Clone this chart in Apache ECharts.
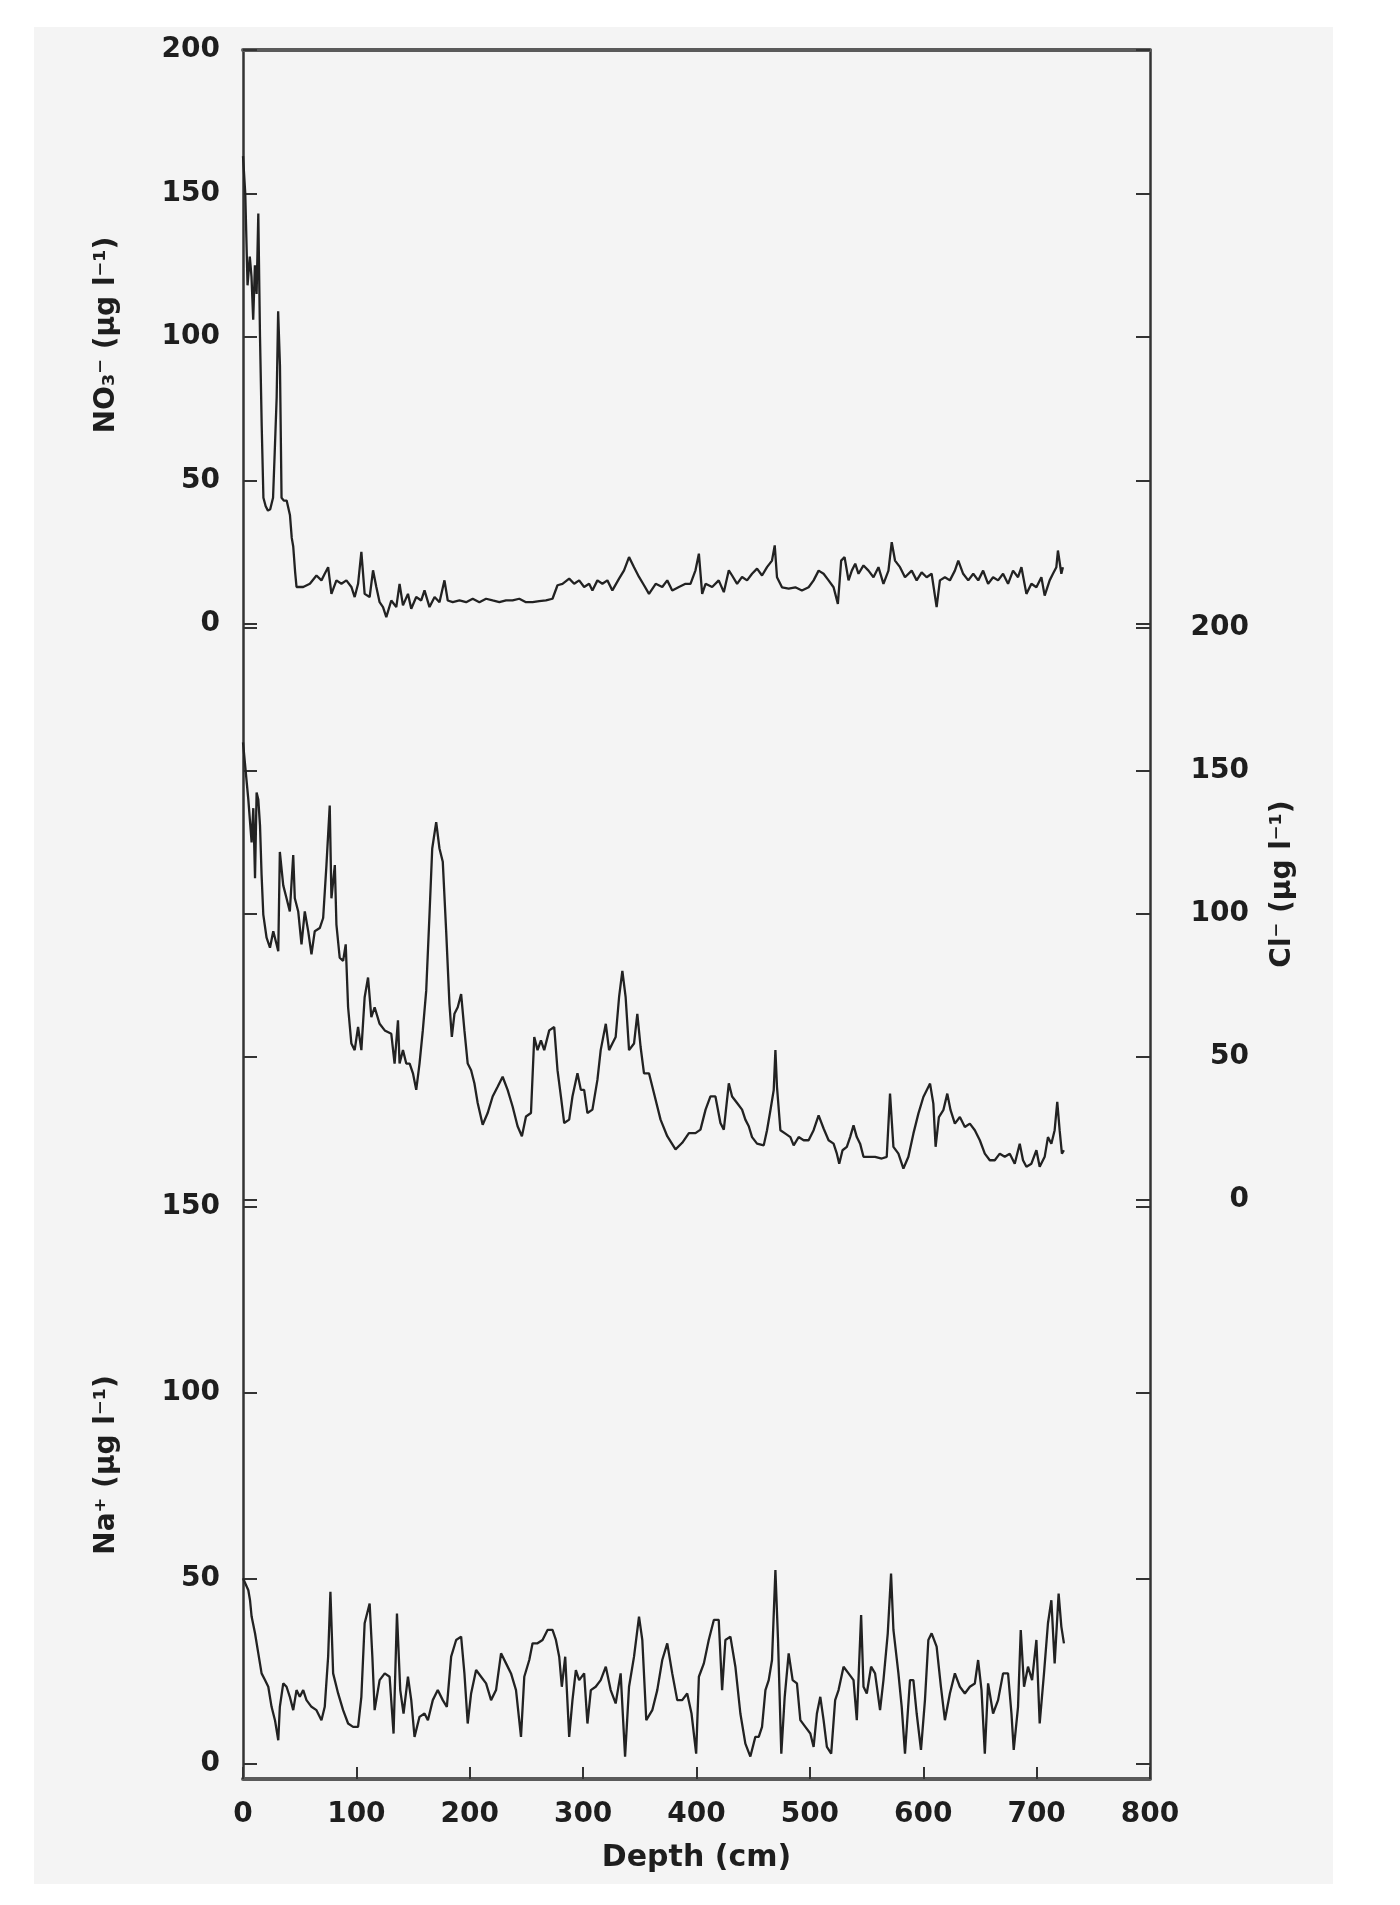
<!DOCTYPE html>
<html>
<head>
<meta charset="utf-8">
<title>Ion profiles vs depth</title>
<script src="https://cdn.jsdelivr.net/npm/echarts@6/dist/echarts.min.js"></script>
<style>
  html, body { margin: 0; padding: 0; background: #fff; }
  #chart { width: 1400px; height: 1905px; }
</style>
</head>
<body>
<div id="chart"></div>
<script>
// depth ticks (cm)
var depthTicks = [0, 100, 200, 300, 400, 500, 600, 700, 800];

// NO3- (ug/l) vs depth
var no3Depth = [0, 2, 4, 6, 7.5, 9, 10.5, 12, 13.5, 15, 16.5, 18, 20, 22, 24, 26.5, 28, 29.7, 31, 32.6, 34, 36, 38.5, 41.4, 43, 44.3, 46, 47.2,
  53.1, 59, 64.8, 69.2, 72.1, 75.1, 78, 82.4, 86.8, 91.2, 95.6, 98.5, 101.5, 104.4, 107.3, 111.7, 114.7, 117.6, 120.5, 123.5, 126.4, 130.8,
  135.2, 138.1, 141.1, 145.5, 148.4, 152.8, 157.2, 160.1, 164.5, 169, 173.3, 177.7, 180.6, 185, 190.9, 196.8, 202.6, 208.5, 214.4, 220.2,
  226.1, 232, 237.8, 243.7, 249.6, 255.4, 261.3, 267.2, 273, 277.4, 281.8, 287.7, 292.1, 296.5, 300.9, 305.3, 308.2, 312.6, 317, 321.4,
  325.8, 331.7, 336.1, 340.5, 344.9, 349.3, 353.7, 358.1, 364, 369.8, 374.2, 378.6, 384.5, 390.3, 394.7, 399.1, 402.1, 405, 408, 413.8,
  419.6, 424.1, 428.5, 431.4, 435.8, 440.2, 444.6, 449, 453.4, 457.8, 462.2, 466.6, 469, 471, 475.4, 481.3, 487.2, 493, 498.9, 503.3,
  507.7, 512.1, 516.5, 520.9, 524.7, 527.6, 530.6, 534.1, 537, 540, 542.9, 547.3, 551.7, 556.1, 560.5, 564.9, 569.3, 572.2, 575.1, 579.5,
  583.9, 589.8, 594.2, 598.6, 603, 607.4, 611.8, 614.7, 619.1, 623.5, 627.9, 630.9, 635.2, 639.7, 644.1, 648.5, 652.8, 657.2, 661.6, 666,
  670.4, 674.8, 679.2, 683.6, 686.6, 691, 695.4, 699.8, 704.2, 707.1, 711.5, 714.4, 717.4, 718.8, 721.8, 723.2];
var no3 = [163, 150, 118, 128, 121, 106, 125, 115, 143, 100, 69, 44, 41, 39.5, 40, 44, 60, 79, 109, 90, 44, 43, 43, 38, 30, 27, 18, 12.9,
  12.9, 14, 16.9, 15.2, 17.5, 19.8, 10.5, 15.2, 14, 15.2, 12.9, 9.4, 14, 25.1, 10.5, 9.4, 18.7, 12.9, 7.6, 5.9, 2.4, 8.2,
  5.9, 14, 6.5, 10.5, 5.3, 9.4, 8.2, 11.7, 5.9, 9.4, 7.6, 15.2, 8.2, 7.6, 8.2, 7.6, 8.8, 7.6, 8.8, 8.2,
  7.6, 8.2, 8.2, 8.8, 7.6, 7.6, 8, 8.2, 8.8, 13.5, 14, 15.8, 14, 15.2, 12.9, 14, 11.7, 15.2, 14, 15.2,
  11.7, 15.8, 18.7, 23.3, 19.8, 16.4, 13.5, 10.5, 14, 12.9, 15.2, 11.7, 12.9, 14, 14, 18.7, 24.5, 10.5, 14, 12.9,
  15.2, 11.1, 18.7, 16.9, 14, 16.4, 15.2, 17.5, 19.3, 16.9, 19.8, 22.1, 27.4, 16.3, 12.8, 12.3, 12.8, 11.7, 12.8, 15.2,
  18.6, 17.5, 15.2, 12.8, 7, 22.1, 23.3, 15.2, 18.6, 21, 17.5, 20.4, 18.6, 16.3, 19.8, 14, 18.6, 28.5, 22.1, 19.8,
  16.3, 18.6, 15.2, 18, 16.3, 17.5, 5.9, 15.2, 16.3, 15.2, 18.6, 22.1, 17.5, 15.2, 17.5, 15.2, 18.6, 14, 16.3, 15.2,
  17.5, 14, 18.6, 16.3, 19.8, 10.5, 14, 12.8, 16.3, 9.9, 15.2, 17.5, 19.8, 25.6, 17.5, 19.8];

// Cl- (ug/l) vs depth
var clDepth = [0, 4.7, 7.6, 9.1, 10.6, 12, 13.5, 15, 16.4, 17.9, 20.8, 23.8, 26.7, 29.6, 31.1, 32.5, 35.5, 38.4, 41.3, 44.3, 45.7, 48.7,
  51.6, 54.5, 57.5, 60.4, 63.3, 67.7, 70.7, 73.6, 76.5, 78, 81, 82.4, 85.3, 88.3, 90.6, 92.7, 95.6, 98.5, 101.5, 104.4, 107.3, 110.3,
  113.2, 116.1, 120.5, 125, 130.8, 133.7, 136.7, 138.1, 141.1, 144, 147, 149.9, 152.8, 155.7, 158.6, 161.6, 164.5, 166.9, 170.4, 173.3,
  176.2, 179.2, 182.1, 184.2, 186.5, 189.4, 192.4, 195.3, 198.2, 201.2, 204.1, 207, 211.4, 215.8, 220.2, 224.6, 229, 233.4, 237.8, 242.2,
  246, 249.6, 254, 256.9, 259.8, 262.8, 265.7, 270.1, 274.5, 277.4, 280.4, 283.3, 287.7, 290.6, 295, 298, 300.9, 303.8, 308.2, 312.6,
  315.5, 320, 322.9, 325.8, 328.7, 331.7, 334.6, 337.5, 340.5, 344.9, 347.8, 350.7, 353.7, 358.1, 362.5, 368.3, 374.2, 381.5, 387.4, 393.3,
  399.1, 403.5, 408, 412.3, 416.7, 421.1, 424.1, 428.5, 431.4, 435.8, 440.2, 443.1, 446.1, 449, 453.4, 459.3, 462.2, 465.2, 468.1, 469.6,
  471, 474, 478.4, 482.8, 485.7, 490.1, 494.5, 498.9, 503.3, 507.7, 512.1, 516.5, 520.9, 523.8, 525.9, 528.8, 532.6, 535.5, 538.5, 541.4,
  544.3, 547.3, 551.7, 557.5, 563.4, 567.8, 570.7, 573.7, 578.1, 582.5, 586.9, 591.3, 595.7, 600.1, 606, 608.9, 610.9, 613.8, 617.7, 621.2,
  624.1, 627.9, 632.3, 636.7, 641.1, 645.5, 649.9, 654.3, 658.7, 663.1, 667.5, 671.9, 676.3, 680.7, 685.1, 688, 691, 695.4, 699.8, 702.7,
  707.1, 710, 713, 715.9, 718.2, 720.3, 722.3, 724.1];
var cl = [160, 140, 125, 137, 112.5, 142.5, 140, 131, 113.6, 99.8, 91.7, 88.2, 94, 89.4, 87, 121.7, 110, 105.5, 100.9, 120.6, 105.5, 100.9,
  89.4, 100.9, 94, 85.9, 94, 95.1, 98.6, 117.1, 137.9, 105.5, 117.1, 96.3, 84.7, 83.6, 89.4, 67.4, 54.7, 52.4, 60.5, 52.4, 70.9, 77.8,
  63.9, 67.4, 61.6, 59.3, 58.1, 47.7, 62.8, 47.7, 52.4, 47.7, 47.7, 44.3, 38.5, 47.7, 59.3, 73.2, 99.8, 122.9, 132.1, 122.9,
  118.3, 94, 68.5, 57, 65.1, 67.4, 72, 59.3, 47.7, 45.4, 40.8, 33.9, 26.3, 30.4, 36.2, 39.6, 43.1, 38.5, 32.7, 25.8,
  22.3, 29.2, 30.4, 57, 52.4, 55.8, 52.4, 59.3, 60.5, 45.4, 36.2, 26.9, 28.1, 36.2, 44.3, 38.5, 38.5, 30.4, 31.6, 42,
  52.4, 61.6, 52.4, 54.7, 57, 70.9, 80.1, 70.9, 52.4, 54.7, 65.1, 53.5, 44.3, 44.3, 37.3, 28.1, 22.3, 17.7, 20, 23.4,
  23.4, 24.6, 31.6, 36.2, 36.2, 26.9, 24.6, 40.8, 36.2, 33.9, 31.6, 28.1, 25.8, 22, 19.7, 19.1, 24.4, 31.4, 38.4, 52.4,
  39.5, 24.4, 23.2, 22, 19.1, 22, 20.9, 20.9, 24.4, 29.6, 25, 20.9, 19.7, 16.2, 12.7, 17.4, 18.6, 22, 26.1, 22,
  19.7, 15.1, 15.1, 15.1, 14.5, 15.1, 37.2, 18.6, 16.2, 11, 15.1, 23.2, 30.2, 36, 40.7, 33.7, 18.6, 29, 31.4, 37.2,
  31.4, 26.7, 29, 25.5, 26.7, 24.4, 20.9, 16.2, 13.9, 13.9, 16.2, 15.1, 16.2, 12.7, 19.7, 13.9, 11.6, 12.7, 17.4, 11.6,
  15.1, 22, 19.7, 24.4, 34.3, 24.4, 16.2, 17.4];

// Na+ (ug/l) vs depth
var naDepth = [0, 4.7, 6.2, 7.6, 10.6, 13.5, 16.4, 19.4, 22.3, 25.2, 28.2, 31.1, 32.5, 35.5, 38.4, 41.3, 44.3, 47.2, 50.1, 53.1, 56, 60.4,
  64.8, 69.2, 72.1, 75.1, 77.1, 79.5, 83.9, 88.3, 92.7, 97.1, 101.5, 104.4, 107.3, 111.7, 114.1, 116.1, 120.5, 125, 129.3, 132.8, 135.8, 138.7,
  141.6, 145.5, 148.4, 151.3, 155.7, 160.1, 163.1, 167.4, 171.8, 176.2, 179.8, 183.6, 188, 192.4, 195.3, 198.2, 201.2, 205.6, 210, 214.4,
  218.8, 223.2, 227.6, 232, 236.4, 240.8, 245.2, 248.1, 252.5, 255.4, 259.8, 264.2, 268.6, 273, 276, 278.9, 281.2, 284.2, 287.7, 290.6,
  293.6, 296.5, 300.9, 303.8, 306.8, 311.1, 315.5, 320, 324.3, 328.7, 333.1, 337, 340.5, 344.9, 349.3, 352.2, 355.7, 361, 365.4, 369.8,
  374.2, 378.6, 383, 387.4, 391.8, 395.6, 399.7, 402.1, 406.5, 410.8, 415.3, 419.6, 422.6, 425.5, 429.9, 434.3, 438.7, 443.1, 447.5, 451.9,
  454.9, 457.8, 460.8, 463.7, 466.6, 469.6, 471.9, 474.8, 477.8, 481.3, 484.8, 488.6, 491.6, 496, 500.4, 503.3, 506.2, 509.2, 512.1, 515,
  518.8, 522.3, 525.3, 529.7, 534.1, 538.5, 541.4, 545.2, 547.3, 550.2, 554, 557.5, 561.9, 564.9, 568.7, 571.6, 573.7, 578.1, 581, 583.9,
  588.3, 591.3, 594.2, 598, 601.5, 604.5, 607.4, 611.8, 615.6, 619.1, 623.5, 627.9, 632.3, 636.7, 641.1, 645.5, 648.4, 651.4, 654.3, 657.2,
  661.6, 666, 670.4, 674.8, 677.8, 679.8, 683.6, 686, 688.9, 692.4, 696, 699.8, 702.7, 706.5, 710, 713, 715.9, 719.4, 721.8, 724.1];
var na = [50, 46.8, 44.1, 39.7, 35.2, 29.8, 24.4, 22.6, 20.8, 15.4, 11.8, 6.4, 15.4, 21.7, 20.8, 18.1, 14.5, 19.9, 18.1, 19.9, 17.2, 15.4,
  14.5, 11.8, 15.4, 28.9, 46.4, 24.4, 19, 14.5, 10.9, 10, 10, 18.1, 37.9, 43.2, 28.9, 14.5, 22.6, 24.4, 23.5, 8.2, 40.5, 19.9,
  13.6, 23.5, 17.2, 7.3, 12.7, 13.6, 11.8, 17.2, 19.9, 17.2, 15.4, 28.9, 33.4, 34.3, 24.4, 10.9, 19, 25.3, 23.5, 21.7,
  17.2, 19.9, 29.8, 27.1, 24.4, 19.9, 7.3, 23.5, 28, 32.5, 32.5, 33.4, 36.1, 36.1, 33.4, 28.9, 20.8, 28.9, 7.3, 17.2,
  25.3, 22.6, 24.4, 10.9, 19.9, 20.8, 22.6, 26.2, 19.9, 16.3, 24.4, 2, 20.8, 28.9, 39.7, 33.4, 11.8, 14.5, 19.9, 28,
  32.5, 24.4, 17.2, 17.2, 19, 13.6, 2.8, 23.5, 27.1, 33.4, 38.8, 38.8, 19.9, 33.4, 34.3, 26.2, 13.6, 5.5, 2, 7.3,
  7.3, 10, 19.9, 22.6, 28, 52.2, 33.4, 2.8, 18.1, 29.8, 22.6, 21.7, 11.8, 10, 8.2, 4.6, 13.6, 18.1, 11.8, 4.6,
  2.8, 17.2, 19.9, 26.2, 24.4, 22.6, 11.8, 40.1, 20.8, 19, 26.2, 24.4, 14.5, 22.6, 35.2, 51.3, 36.1, 24.4, 15.4, 2.8,
  22.6, 22.6, 13.6, 3.8, 17.2, 33.4, 35.2, 31.6, 20.8, 11.8, 19, 24.4, 20.8, 19, 20.8, 21.7, 28, 19.9, 2.8, 21.7,
  13.6, 17.2, 24.4, 24.4, 13.6, 3.8, 15.4, 36.1, 20.8, 26.2, 22.6, 33.4, 10.9, 24.4, 37.9, 44.1, 27.1, 45.9, 37, 32.5];

function pairs(xs, ys) {
  return xs.map(function (x, i) { return [x, ys[i]]; });
}

var font = 'DejaVu Sans';
var ink = '#1e1e1e';
var L = 243, W = 907;

// one y axis; side = 'left' | 'right', labels on or off
function yAx(grid, side, max, showLabel) {
  return {
    gridIndex: grid, type: 'value', position: side,
    min: 0, max: max, interval: 50,
    axisLine: { show: false, onZero: false },
    axisTick: { show: true, inside: true, length: 14, lineStyle: { color: '#333', width: 2 } },
    axisLabel: {
      show: showLabel,
      margin: side === 'left' ? 23 : 99,
      align: 'right',
      fontFamily: font, fontWeight: 'bold', fontSize: 28, color: ink
    },
    splitLine: { show: false }
  };
}

var chart = echarts.init(document.getElementById('chart'));

var lineStyle = { color: '#222', width: 2.3 };

var option = {
  backgroundColor: '#ffffff',
  animation: false,
  grid: [
    { left: L, top: 50, width: W, height: 574 },   // NO3
    { left: L, top: 628, width: W, height: 572 },  // Cl
    { left: L, top: 1207, width: W, height: 557 }, // Na
    { left: L, top: 50, width: W, height: 1729 }   // frame + depth axis
  ],
  xAxis: [
    { gridIndex: 0, type: 'value', min: 0, max: 800, show: false },
    { gridIndex: 1, type: 'value', min: 0, max: 800, show: false },
    { gridIndex: 2, type: 'value', min: 0, max: 800, show: false },
    {
      gridIndex: 3, type: 'value', position: 'bottom', min: depthTicks[0], max: depthTicks[depthTicks.length - 1], interval: 100,
      axisLine: { show: true, onZero: false, lineStyle: { color: '#5a5a5a', width: 4 } },
      axisTick: { show: true, inside: true, length: 12, lineStyle: { color: '#333', width: 2 } },
      axisLabel: { margin: 22, fontFamily: font, fontWeight: 'bold', fontSize: 28, color: ink },
      splitLine: { show: false },
      name: 'Depth (cm)', nameLocation: 'middle', nameGap: 64,
      nameTextStyle: { fontFamily: font, fontWeight: 'bold', fontSize: 30, color: ink }
    },
    {
      gridIndex: 3, type: 'value', position: 'top', min: 0, max: 800,
      axisLine: { show: true, onZero: false, lineStyle: { color: '#5a5a5a', width: 4 } },
      axisTick: { show: false }, axisLabel: { show: false }, splitLine: { show: false }
    }
  ],
  yAxis: [
    yAx(0, 'left', 200, true),
    yAx(0, 'right', 200, false),
    yAx(1, 'left', 200, false),
    yAx(1, 'right', 200, true),
    yAx(2, 'left', 150, true),
    yAx(2, 'right', 150, false),
    {
      gridIndex: 3, type: 'value', position: 'left', min: 0, max: 1,
      axisLine: { show: true, onZero: false, lineStyle: { color: '#333', width: 2.5 } },
      axisTick: { show: false }, axisLabel: { show: false }, splitLine: { show: false }
    },
    {
      gridIndex: 3, type: 'value', position: 'right', min: 0, max: 1,
      axisLine: { show: true, onZero: false, lineStyle: { color: '#333', width: 2.5 } },
      axisTick: { show: false }, axisLabel: { show: false }, splitLine: { show: false }
    }
  ],
  graphic: [
    { type: 'rect', z: -100, silent: true, shape: { x: 34, y: 27, width: 1299, height: 1857 }, style: { fill: '#f4f4f4' } },
    { type: 'text', x: 107, y: 335, rotation: Math.PI / 2,
      style: { text: 'NO\u2083\u207B (\u00B5g l\u207B\u00B9)', font: 'bold 28px "DejaVu Sans"', fill: ink, align: 'center', verticalAlign: 'middle' } },
    { type: 'text', x: 1283, y: 884, rotation: Math.PI / 2,
      style: { text: 'Cl\u207B (\u00B5g l\u207B\u00B9)', font: 'bold 28px "DejaVu Sans"', fill: ink, align: 'center', verticalAlign: 'middle' } },
    { type: 'text', x: 107, y: 1465, rotation: Math.PI / 2,
      style: { text: 'Na\u207A (\u00B5g l\u207B\u00B9)', font: 'bold 28px "DejaVu Sans"', fill: ink, align: 'center', verticalAlign: 'middle' } }
  ],
  series: [
    { type: 'line', xAxisIndex: 0, yAxisIndex: 0, data: pairs(no3Depth, no3), showSymbol: false, lineStyle: lineStyle },
    { type: 'line', xAxisIndex: 1, yAxisIndex: 3, data: pairs(clDepth, cl), showSymbol: false, lineStyle: lineStyle },
    { type: 'line', xAxisIndex: 2, yAxisIndex: 4, data: pairs(naDepth, na), showSymbol: false, lineStyle: lineStyle }
  ]
};

chart.setOption(option);
</script>
</body>
</html>
